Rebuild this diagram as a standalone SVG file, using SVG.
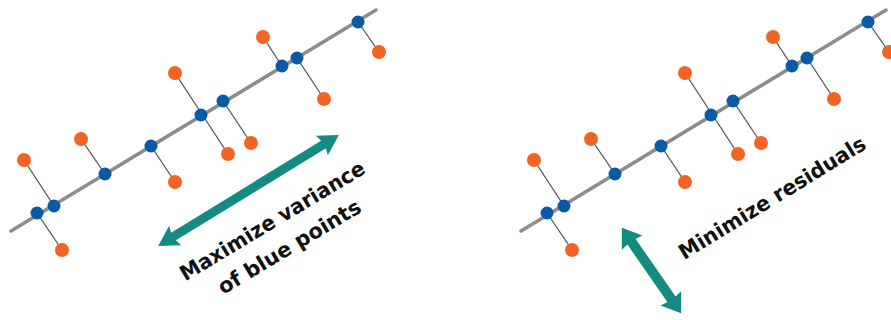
<svg xmlns="http://www.w3.org/2000/svg" width="891" height="320" viewBox="0 0 891 320">
<defs>
<style>
.axis{stroke:#8c8c8c;stroke-width:3.5;stroke-linecap:round;fill:none}
.res{stroke:#555555;stroke-width:1.3;fill:none}
.blue{fill:#0b5aa6}
.orange{fill:#f26426}
.arrow{fill:#138a82}
.lbl{font-family:"DejaVu Sans","Liberation Sans",sans-serif;font-weight:bold;font-size:21px;fill:#111;text-anchor:middle}
</style>
<g id="panel">
<g id="connectors">
<line class="axis" x1="11" y1="231" x2="376" y2="10"/>
<line class="res" x1="24" y1="160" x2="54" y2="206"/>
<line class="res" x1="62" y1="250" x2="37" y2="213"/>
<line class="res" x1="81" y1="139" x2="105" y2="174"/>
<line class="res" x1="151" y1="146" x2="175" y2="182"/>
<line class="res" x1="175" y1="73" x2="228" y2="154"/>
<line class="res" x1="223" y1="101" x2="251" y2="143"/>
<line class="res" x1="263" y1="37" x2="282" y2="66"/>
<line class="res" x1="297" y1="58" x2="324" y2="99"/>
<line class="res" x1="358" y1="22" x2="379" y2="52"/>
</g>
<g id="orange-points">
<circle class="orange" cx="24" cy="160" r="7"/>
<circle class="orange" cx="62" cy="250" r="7"/>
<circle class="orange" cx="81" cy="139" r="7"/>
<circle class="orange" cx="175" cy="182" r="7"/>
<circle class="orange" cx="175" cy="73" r="7"/>
<circle class="orange" cx="228" cy="154" r="7"/>
<circle class="orange" cx="251" cy="143" r="7"/>
<circle class="orange" cx="263" cy="37" r="7"/>
<circle class="orange" cx="324" cy="99" r="7"/>
<circle class="orange" cx="379" cy="52" r="7"/>
</g>
<g id="blue-points">
<circle class="blue" cx="37" cy="213" r="6.5"/>
<circle class="blue" cx="54" cy="206" r="6.5"/>
<circle class="blue" cx="105" cy="174" r="6.5"/>
<circle class="blue" cx="151" cy="146" r="6.5"/>
<circle class="blue" cx="201" cy="115" r="6.5"/>
<circle class="blue" cx="223" cy="101" r="6.5"/>
<circle class="blue" cx="282" cy="66" r="6.5"/>
<circle class="blue" cx="297" cy="58" r="6.5"/>
<circle class="blue" cx="358" cy="22" r="6.5"/>
</g>
</g>
</defs>
<rect width="891" height="320" fill="#ffffff"/>
<g id="left-panel">
<use href="#panel"/>
<g id="variance-arrow">
<path class="arrow" transform="translate(248.5,190.5) rotate(-31.5)" d="M-106,0 L-86,-11.5 L-88,-4.5 L88,-4.5 L86,-11.5 L106,0 L86,11.5 L88,4.5 L-88,4.5 L-86,11.5 Z"/>
</g>
<g id="variance-label">
<text class="lbl" transform="translate(276,227) rotate(-31)" x="0" y="0" textLength="212" lengthAdjust="spacingAndGlyphs">Maximize variance</text>
<text class="lbl" transform="translate(293,253) rotate(-31)" x="0" y="0" textLength="163" lengthAdjust="spacingAndGlyphs">of blue points</text>
</g>
</g>
<g id="right-panel">
<use href="#panel" transform="translate(510,0)"/>
<g id="residual-arrow">
<path class="arrow" transform="translate(651.5,270.5) rotate(55.2)" d="M-52,0 L-34,-12.5 L-35,-5 L35,-5 L34,-12.5 L52,0 L34,12.5 L35,5 L-35,5 L-34,12.5 Z"/>
</g>
<g id="residual-label">
<text class="lbl" transform="translate(776,204) rotate(-31.5)" x="0" y="0" textLength="215" lengthAdjust="spacingAndGlyphs">Minimize residuals</text>
</g>
</g>
</svg>
